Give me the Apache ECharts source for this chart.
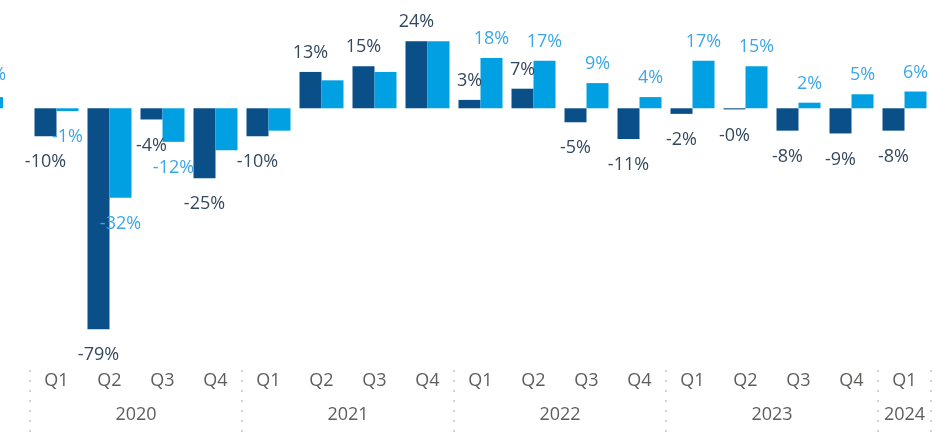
<!DOCTYPE html>
<html>
<head>
    <meta http-equiv="Content-Type" content="text/html; charset=UTF-8">
    <title>Quarterly change</title>
    <style>
        html,body {
            height: 100%;
            width: 100%;
            margin: 0;
            padding: 0;
            background: #fff;
        }
        #chart {
            width: 939px;
            height: 432px;
        }
    </style>
    <script src="https://cdn.jsdelivr.net/npm/echarts@6/dist/echarts.min.js"></script>
</head>
<body>
<div id="chart"></div>
<script type="text/javascript">
    // quarters 2020 Q1 .. 2024 Q1
    var quarters = ['Q1','Q2','Q3','Q4','Q1','Q2','Q3','Q4','Q1','Q2','Q3','Q4','Q1','Q2','Q3','Q4','Q1'];
    var years = ['2020','2021','2022','2023','2024'];
    var quartersPerYear = [4, 4, 4, 4, 1];
    var darkValues = [-10, -79, -4, -25, -10, 13, 15, 24, 3, 7, -5, -11, -2, -0.4, -8, -9, -8];
    var lightValues = [-1, -32, -12, -15, -8, 10, 13, 24, 18, 17, 9, 4, 17, 15, 2, 5, 6];
    var lightLabelShown = [true, true, true, false, false, false, false, false, true, true, true, true, true, true, true, true, true];
    // 2019 Q4, only its edge is visible
    var prevQuarter = ['Q4'];
    var prevLight = [4];
    // next quarter, empty and cut off at the right edge
    var nextQuarter = '2024 Q2';

    var darkColor = '#0A4F88';
    var lightColor = '#00A0E3';
    var darkLabelColor = '#34495F';
    var lightLabelColor = '#3DA7E6';
    var font = '"Open Sans", "Segoe UI", sans-serif';

    // category ids so that the axis has unique values
    var categories = [];
    var yearCenters = {};
    var pos = 0;
    for (var y = 0; y < years.length; y++) {
        for (var q = 0; q < quartersPerYear[y]; q++) {
            categories.push(years[y] + ' ' + quarters[pos + q]);
        }
        yearCenters[(pos + quartersPerYear[y] / 2).toFixed(1)] = years[y];
        pos += quartersPerYear[y];
    }
    categories.push(nextQuarter);

    function pct(v) {
        return v.toFixed(0) + '%';
    }

    function makeData(values, color, shown, offset) {
        return values.map(function(v, i) {
            if (v === null) return null;
            return {
                value: v,
                label: {
                    show: shown ? shown[i] : true,
                    position: v < 0 ? 'bottom' : 'top',
                    distance: v < 0 ? 17 : 10,
                    offset: offset || [0, 0],
                    color: color,
                    fontFamily: font,
                    fontSize: 18,
                    formatter: function(p) { return pct(p.value); }
                }
            };
        });
    }

    var myChart = echarts.init(document.getElementById('chart'));
    var option = {
        animation: false,
        grid: [
            {left: 30, width: 53 * categories.length, top: 2, bottom: 72, outerBoundsMode: 'none'},
            {left: 0, width: 3, top: 2, bottom: 72, outerBoundsMode: 'none'}
        ],
        xAxis: [
            {
                type: 'category',
                gridIndex: 0,
                data: categories,
                offset: 10,
                axisLine: {show: false, onZero: false},
                axisTick: {
                    show: true,
                    length: 62,
                    interval: function(index, value) {
                        return value.slice(-2) === 'Q1' || value === nextQuarter;
                    },
                    lineStyle: {color: '#C8C6C4', type: [2, 8], width: 1.5}
                },
                axisLabel: {
                    interval: 0,
                    margin: 2,
                    color: '#605E5C',
                    fontFamily: font,
                    fontSize: 18,
                    formatter: function(v) { return v === nextQuarter ? '' : v.slice(-2); }
                }
            },
            {
                type: 'value',
                gridIndex: 0,
                position: 'bottom',
                min: 0,
                max: categories.length,
                interval: 0.5,
                offset: 35,
                axisLine: {show: false, onZero: false},
                axisTick: {show: false},
                splitLine: {show: false},
                axisLabel: {
                    margin: 11,
                    color: '#605E5C',
                    fontFamily: font,
                    fontSize: 18,
                    showMinLabel: false,
                    showMaxLabel: false,
                    formatter: function(v) {
                        return yearCenters[v.toFixed(1)] || '';
                    }
                }
            },
            {
                type: 'category',
                gridIndex: 1,
                data: prevQuarter,
                axisLine: {show: false, onZero: false},
                axisTick: {show: false},
                axisLabel: {show: false}
            }
        ],
        yAxis: [
            {type: 'value', gridIndex: 0, min: -90, max: 38, show: false, splitLine: {show: false}},
            {type: 'value', gridIndex: 1, min: -90, max: 38, show: false, splitLine: {show: false}}
        ],
        series: [
            {
                name: 'Series 1',
                type: 'bar',
                xAxisIndex: 0,
                yAxisIndex: 0,
                barWidth: 22,
                barGap: '0%',
                itemStyle: {color: darkColor},
                data: makeData(darkValues, darkLabelColor)
            },
            {
                name: 'Series 2',
                type: 'bar',
                xAxisIndex: 0,
                yAxisIndex: 0,
                barWidth: 22,
                barGap: '0%',
                itemStyle: {color: lightColor},
                data: makeData(lightValues, lightLabelColor, lightLabelShown)
            },
            {
                name: 'Series 2',
                type: 'bar',
                xAxisIndex: 2,
                yAxisIndex: 1,
                barWidth: 22,
                clip: true,
                itemStyle: {color: lightColor},
                data: makeData(prevLight, lightLabelColor, null, [-8, -3])
            }
        ]
    };
    myChart.setOption(option);
</script>
</body>
</html>
